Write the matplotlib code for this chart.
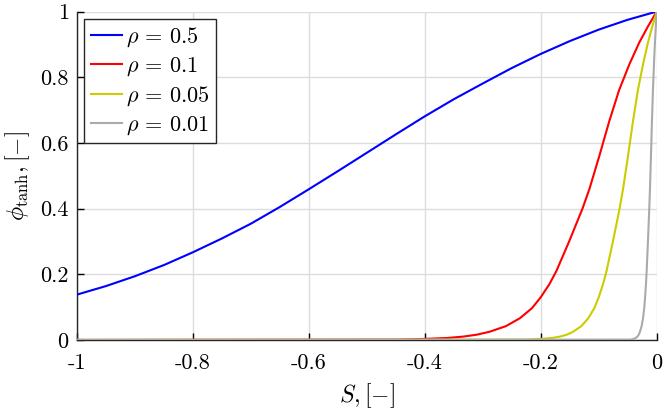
import numpy as np
import matplotlib
matplotlib.use("Agg")
import matplotlib.pyplot as plt

plt.rcParams["font.family"] = "serif"
plt.rcParams["font.serif"] = ["cmr10"]
plt.rcParams["mathtext.fontset"] = "cm"
plt.rcParams["axes.formatter.use_mathtext"] = True
plt.rcParams["axes.unicode_minus"] = False

# values: phi_tanh against S for each rho
s_05 = [-1.0, -0.95, -0.9, -0.85, -0.8, -0.75, -0.7, -0.65, -0.6, -0.55,
        -0.5, -0.45, -0.4, -0.35, -0.3, -0.25, -0.2, -0.15, -0.1, -0.05, 0.0]
phi_05 = [0.138, 0.164, 0.194, 0.228, 0.267, 0.309, 0.354, 0.405, 0.459, 0.514,
          0.570, 0.626, 0.681, 0.733, 0.781, 0.828, 0.871, 0.910, 0.945, 0.975, 1.0]

s_01 = [-1.0, -0.45, -0.40, -0.36, -0.334, -0.31, -0.288, -0.26, -0.236,
        -0.215, -0.200, -0.185, -0.173, -0.151, -0.128, -0.116, -0.099,
        -0.082, -0.065, -0.047, -0.030, -0.015, 0.0]
phi_01 = [0.0, 0.001, 0.003, 0.006, 0.010, 0.016, 0.025, 0.042, 0.066,
          0.097, 0.130, 0.170, 0.210, 0.300, 0.400, 0.460, 0.560,
          0.665, 0.760, 0.840, 0.906, 0.955, 1.0]

s_005 = [-1.0, -0.225, -0.20, -0.18, -0.167, -0.155, -0.144, -0.130, -0.118,
         -0.1075, -0.100, -0.0925, -0.0865, -0.0755, -0.064, -0.058, -0.0495,
         -0.041, -0.0325, -0.0235, -0.015, -0.0075, 0.0]
phi_005 = [0.0, 0.001, 0.003, 0.006, 0.010, 0.016, 0.025, 0.042, 0.066,
           0.097, 0.130, 0.170, 0.210, 0.300, 0.400, 0.460, 0.560,
           0.665, 0.760, 0.840, 0.906, 0.955, 1.0]

s_001 = [-1.0, -0.045, -0.040, -0.036, -0.0334, -0.031, -0.0288, -0.026, -0.0236,
         -0.0215, -0.020, -0.0185, -0.0173, -0.0151, -0.0128, -0.0116, -0.0099,
         -0.0082, -0.0065, -0.0047, -0.0030, -0.0015, 0.0]
phi_001 = [0.0, 0.001, 0.003, 0.006, 0.010, 0.016, 0.025, 0.042, 0.066,
           0.097, 0.130, 0.170, 0.210, 0.300, 0.400, 0.460, 0.560,
           0.665, 0.760, 0.840, 0.906, 0.955, 1.0]

labels = [r"$\rho\,=\,0.5$", r"$\rho\,=\,0.1$", r"$\rho\,=\,0.05$", r"$\rho\,=\,0.01$"]
colors = ["#0000ff", "#ff0000", "#cccc00", "#aaaaaa"]

xticks = [-1, -0.8, -0.6, -0.4, -0.2, 0]
xticklabels = ["-1", "-0.8", "-0.6", "-0.4", "-0.2", "0"]
yticks = [0, 0.2, 0.4, 0.6, 0.8, 1]
yticklabels = ["0", "0.2", "0.4", "0.6", "0.8", "1"]

fig = plt.figure(figsize=(6.64, 4.13), dpi=100)
ax = fig.add_axes([0.116, 0.177, 0.873, 0.795])

series = [(s_05, phi_05), (s_01, phi_01), (s_005, phi_005), (s_001, phi_001)]
for (s, phi), lab, col in zip(series, labels, colors):
    ax.plot(s, phi, color=col, lw=1.5, label=lab, zorder=3)

ax.set_xlim(-1, 0)
ax.set_ylim(0, 1)
ax.set_xticks(xticks)
ax.set_xticklabels(xticklabels)
ax.set_yticks(yticks)
ax.set_yticklabels(yticklabels)
ax.tick_params(direction="in", length=5, width=1, labelsize=16)
ax.tick_params(axis="x", pad=10)
ax.tick_params(axis="y", pad=6)
ax.grid(True, color="#dcdcdc", lw=1)
ax.set_axisbelow(True)
for side in ["top", "right"]:
    ax.spines[side].set_visible(False)
for side in ["left", "bottom"]:
    ax.spines[side].set_color("#262626")
    ax.spines[side].set_linewidth(1.0)

ax.set_xlabel(r"$S, [-]$", fontsize=17, labelpad=6)
ax.set_ylabel(r"$\phi_{\rm tanh}, [-]$", fontsize=17, labelpad=6)

leg = ax.legend(loc="upper left", bbox_to_anchor=(0.012, 0.977), fontsize=16,
                handlelength=1.4, handletextpad=0.2, labelspacing=0.28,
                borderpad=0.3, borderaxespad=0, fancybox=False, framealpha=1)
leg.get_frame().set_edgecolor("#262626")
leg.get_frame().set_linewidth(1.0)

fig.savefig("out.png", dpi=100)
